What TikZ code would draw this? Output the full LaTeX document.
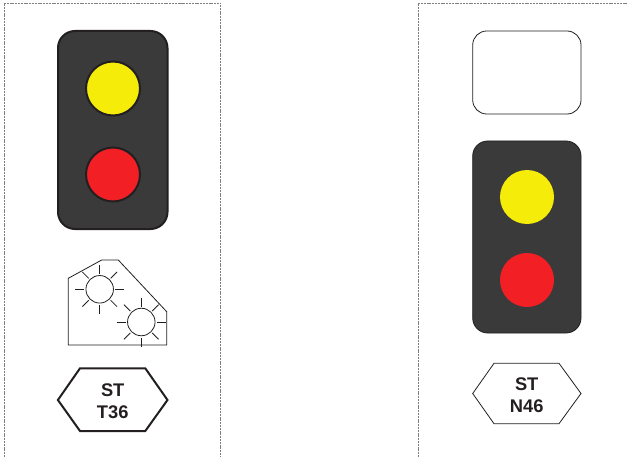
\documentclass[tikz,border=0pt]{standalone}
\usepackage{fontspec}
\setmainfont{Liberation Sans}
\definecolor{ink}{HTML}{231F20}
\definecolor{housing}{HTML}{3A3A3A}
\definecolor{lampY}{HTML}{F5EC0A}
\definecolor{lampR}{HTML}{F22025}
\tikzset{
  bound/.style={draw=black!50,line width=0.6pt,dash pattern=on 2pt off 0.8pt},
  thick box/.style={draw=ink,line width=2pt,fill=housing,rounded corners=17pt},
  thin box/.style={draw=ink,line width=0.8pt,fill=housing,rounded corners=15pt},
  empty box/.style={draw=ink,line width=0.8pt,fill=white,rounded corners=14pt},
  lamp/.style={circle,inner sep=0pt,minimum size=#1},
  heavy/.style={draw=ink,line width=2pt},
  light/.style={draw=ink,line width=0.8pt},
  ray/.style={draw=ink,line width=0.8pt},
  label text/.style={font=\fontsize{18.3}{21.8}\selectfont\bfseries,text=ink,align=center,inner sep=0pt}
}
\newcommand{\sunrays}[1]{%
  \foreach \a in {0,45,...,315}
    \draw[ray] (#1)++(\a:15.5) -- ++(\a:9);}
\begin{document}
\begin{tikzpicture}[x=1pt,y=-1pt]
\useasboundingbox (0,0) rectangle (628,457);
% page boundaries
\draw[bound] (4.5,457) -- (4.5,3) -- (220.5,3) -- (220.5,457);
\draw[bound] (418.5,457) -- (418.5,3) -- (628,3);
% left signal
\draw[thick box] (58,31) rectangle (167.5,229);
\node[lamp=54pt,fill=lampY,draw=ink,line width=2pt] (ly) at (113,88.5) {};
\node[lamp=54pt,fill=lampR,draw=ink,line width=2pt] (lr) at (113,174.5) {};
% sun plate
\draw[ray] (68.3,278.3) -- (101.7,260) -- (118.3,260) -- (166.7,311.7) -- (166.7,345) -- (68.3,345) -- cycle;
\node[lamp=27.5pt,draw=ink,line width=0.8pt] (sa) at (99.7,289.3) {};
\node[lamp=27.5pt,draw=ink,line width=0.8pt] (sb) at (141.3,322) {};
\coordinate (ca) at (99.7,289.3);
\coordinate (cb) at (141.3,322);
\sunrays{ca}
\sunrays{cb}
% left hexagon
\draw[heavy,fill=white,line join=miter] (57.9,400) -- (80,368.3) -- (145.3,368.3) -- (167.5,400) -- (145.3,431) -- (80,431) -- cycle;
\node[label text] (lt) at (112.7,401) {ST\\T36};
% right signal
\draw[empty box] (472.7,31) rectangle (581,114);
\draw[thin box] (472.7,141) rectangle (581,333);
\node[lamp=54pt,fill=lampY] (ry) at (527,197) {};
\node[lamp=54pt,fill=lampR] (rr) at (527,280) {};
% right hexagon
\draw[light,fill=white] (472.7,393.5) -- (494,363.3) -- (559,363.3) -- (581,393.5) -- (559,423.7) -- (494,423.7) -- cycle;
\node[label text] (rt) at (526.7,395) {ST\\N46};
\end{tikzpicture}
\end{document}
